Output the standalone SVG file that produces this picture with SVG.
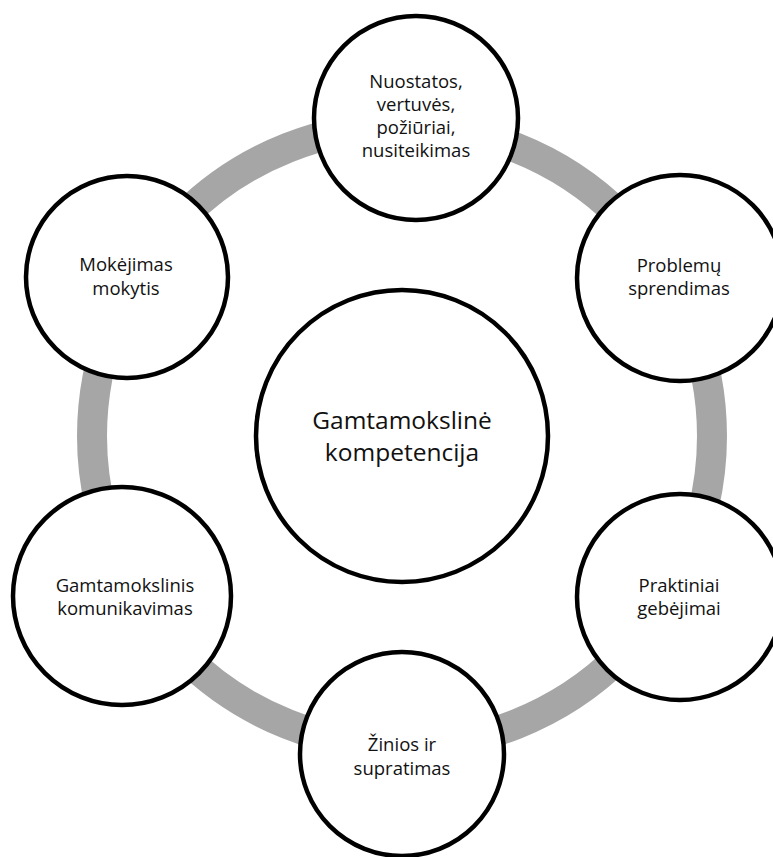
<svg xmlns="http://www.w3.org/2000/svg" width="773" height="857" viewBox="0 0 773 857">
<style>
.node{fill:#ffffff;stroke:#000000;stroke-width:4.5}
.ring{fill:none;stroke:#a6a6a6;stroke-width:30}
.t{font-family:"Open Sans","Liberation Sans",sans-serif;font-size:18.5px;fill:#111111;text-anchor:middle}
.tc{font-family:"Open Sans","Liberation Sans",sans-serif;font-size:24.5px;fill:#111111;text-anchor:middle}
</style>
<rect width="773" height="857" fill="#ffffff"/>
<g id="connectors">
<circle class="ring" cx="402" cy="436" r="310"/>
</g>
<g id="center">
<circle class="node" cx="402" cy="436" r="146"/>
<text class="tc" x="402" y="429">Gamtamokslinė</text>
<text class="tc" x="402" y="461">kompetencija</text>
</g>
<g id="node-nuostatos">
<circle class="node" cx="416" cy="118" r="102"/>
<text class="t" x="416" y="88">Nuostatos,</text>
<text class="t" x="416" y="111">vertuvės,</text>
<text class="t" x="416" y="134">požiūriai,</text>
<text class="t" x="416" y="157">nusiteikimas</text>
</g>
<g id="node-problemu">
<circle class="node" cx="680" cy="278" r="103"/>
<text class="t" x="679" y="272">Problemų</text>
<text class="t" x="679" y="295">sprendimas</text>
</g>
<g id="node-praktiniai">
<circle class="node" cx="680" cy="597" r="103"/>
<text class="t" x="679" y="592">Praktiniai</text>
<text class="t" x="679" y="615">gebėjimai</text>
</g>
<g id="node-zinios">
<circle class="node" cx="402" cy="754" r="102"/>
<text class="t" x="402" y="751">Žinios ir</text>
<text class="t" x="402" y="775">supratimas</text>
</g>
<g id="node-komunikavimas">
<circle class="node" cx="122" cy="596" r="109"/>
<text class="t" x="125" y="592">Gamtamokslinis</text>
<text class="t" x="125" y="615">komunikavimas</text>
</g>
<g id="node-mokejimas">
<circle class="node" cx="127" cy="277" r="101"/>
<text class="t" x="126" y="271">Mokėjimas</text>
<text class="t" x="126" y="295">mokytis</text>
</g>
</svg>
